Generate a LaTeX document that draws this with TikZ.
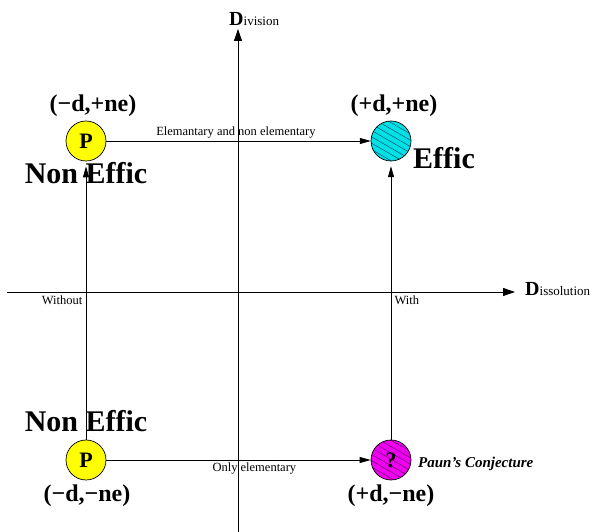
\documentclass[tikz,border=0pt]{standalone}
\usepackage{fontspec}
\setmainfont{Liberation Serif}
\usetikzlibrary{arrows.meta,patterns.meta}
\definecolor{QdYellow}{RGB}{255,255,0}
\definecolor{QdCyan}{RGB}{0,225,230}
\definecolor{QdMagenta}{RGB}{240,0,240}
\definecolor{QdHatchC}{RGB}{0,70,110}
\definecolor{QdHatchM}{RGB}{90,0,90}
\tikzset{
  qd/state/.style={
    circle,
    draw=black,
    line width=0.7pt,
    minimum size=40pt,
    inner sep=0pt,
    font=\fontsize{22}{24}\selectfont\bfseries
  },
  qd/known/.style={qd/state, fill=QdYellow},
  qd/effic/.style={
    qd/state,
    preaction={fill=QdCyan},
    pattern={Lines[angle=-30,distance=5.5pt,line width=0.45pt]},
    pattern color=QdHatchC
  },
  qd/open/.style={
    qd/state,
    preaction={fill=QdMagenta},
    pattern={Lines[angle=-30,distance=5.5pt,line width=0.45pt]},
    pattern color=QdHatchM
  },
  qd/coord/.style={inner sep=0pt, font=\fontsize{24}{26}\selectfont\bfseries},
  qd/big/.style={inner sep=0pt, font=\fontsize{30}{32}\selectfont\bfseries},
  qd/conj/.style={inner sep=0pt, font=\fontsize{15}{17}\selectfont\bfseries\itshape},
  qd/small/.style={font=\fontsize{12.5}{14}\selectfont},
  qd/axis/.style={-{Triangle[length=12pt,width=8pt]}, line width=0.8pt, draw=black},
  qd/arrow/.style={-{Triangle[length=11pt,width=6pt]}, line width=0.7pt, draw=black}
}
\newcommand{\qdaxislabel}[2]{{\fontsize{20}{22}\selectfont\bfseries #1}{\fontsize{13}{15}\selectfont #2}}

\begin{document}
\begin{tikzpicture}[x=1pt,y=1pt]
  \useasboundingbox (0,0) rectangle (594,532);
  \coordinate (ybot) at (238,0);
  \coordinate (ytop) at (238,503);
  \coordinate (xleft) at (7,240);
  \coordinate (xright) at (515,240);
  \draw[qd/axis] (ybot) -- (ytop);
  \draw[qd/axis] (xleft) -- (xright);
  \node[anchor=base west,inner sep=0pt] (divlbl) at (229,506) {\qdaxislabel{D}{ivision}};
  \node[anchor=base west,inner sep=0pt] (dislbl) at (525,236) {\qdaxislabel{D}{issolution}};

  \node[qd/known] (pNW) at (86,391) {P};
  \node[qd/effic] (pNE) at (391,391) {};
  \node[qd/known] (pSW) at (86,72) {P};
  \node[qd/open] (pSE) at (391,72) {?};

  \node[qd/coord,anchor=base] (lblNW) at (93,420) {(−d,+ne)};
  \node[qd/coord,anchor=base] (lblNE) at (394,420) {(+d,+ne)};
  \node[qd/coord,anchor=base] (lblSW) at (87,30) {(−d,−ne)};
  \node[qd/coord,anchor=base] (lblSE) at (391,30) {(+d,−ne)};
  \node[qd/big,anchor=base] (neNW) at (86,348) {Non Effic};
  \node[qd/big,anchor=base] (neSW) at (86,100) {Non Effic};
  \node[qd/big,anchor=base west] (efNE) at (413,363) {Effic};
  \node[qd/conj,anchor=base west] (paun) at (418,64) {Paun’s Conjecture};

  \draw[qd/arrow] (pNW) -- (pNE) node[qd/small,pos=.49,above,inner sep=2pt] {Elemantary and non elementary};
  \draw[qd/arrow] (pSW) -- (pSE) node[qd/small,pos=.56,below,inner sep=2pt] {Only elementary};
  \draw[qd/arrow,shorten >=5pt] (pSW) -- (pNW) node[qd/small,pos=.5,left] {Without};
  \draw[qd/arrow,shorten >=5pt] (pSE) -- (pNE) node[qd/small,pos=.5,right] {With};
\end{tikzpicture}
\end{document}
